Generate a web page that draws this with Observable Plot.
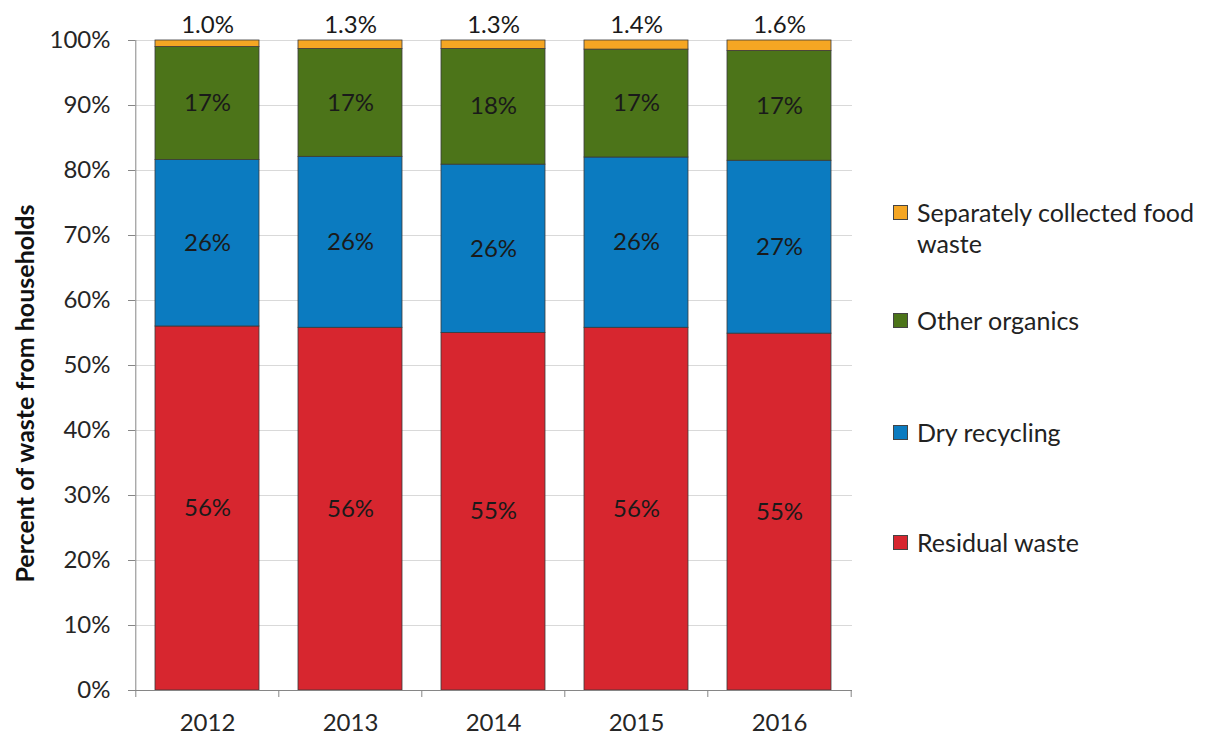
<!DOCTYPE html>
<html><head><meta charset="utf-8">
<script src="https://cdn.jsdelivr.net/npm/d3@7"></script>
<script src="https://cdn.jsdelivr.net/npm/@observablehq/plot@0.6"></script>
<style>
body{margin:0;background:#fff;font-family:Lato,sans-serif}
#wrap{position:relative;width:1213px;height:735px;overflow:hidden}
#legend{position:absolute;left:0;top:0;width:1213px;height:735px;pointer-events:none}
.item{position:absolute;left:893px;display:flex;align-items:flex-start;font-size:25px;line-height:31px;color:#222}
.sw{width:13px;height:13px;border:1px solid #444;margin-top:8px;margin-right:9px;flex:none}
.item:nth-child(1){top:197px;width:320px}
.item:nth-child(2){top:305px}
.item:nth-child(3){top:417px}
.item:nth-child(4){top:527px}
</style></head><body><div id="wrap"><div id="chart"></div><div id="legend"></div></div>
<script>
const years = ["2012","2013","2014","2015","2016"];
const series = ["Residual waste","Dry recycling","Other organics","Separately collected food waste"];
const residual = [56.0,55.8,55.0,55.8,54.9];
const dry = [25.6,26.3,25.9,26.2,26.6];
const organics = [17.4,16.6,17.8,16.6,16.9];
const food = [1.0,1.3,1.3,1.4,1.6];
const colors = ["#D7262F","#0B7BC0","#4C7419","#F5A623"];
const yTicks = [0,10,20,30,40,50,60,70,80,90,100];
const yTitle = "Percent of waste from households";

const valuesBySeries = [residual, dry, organics, food];
const data = [];
years.forEach((yr, i) => series.forEach((s, j) => data.push({year: yr, series: s, value: valuesBySeries[j][i]})));

const W = 1213, H = 735, ml = 135, mr = 361, mt = 40, mb = 45;
const step = (W - ml - mr) / years.length;
const tickDepth = 7 * 100 / (H - mt - mb);

const chart = Plot.plot({
  width: W, height: H,
  marginLeft: ml, marginRight: mr, marginTop: mt, marginBottom: mb,
  style: {fontFamily: "Lato, sans-serif", fontSize: "24px", color: "#262626", background: "#fff"},
  x: {domain: years, paddingInner: 0.27, paddingOuter: 0.135, label: null},
  y: {domain: [0, 100], label: null},
  color: {domain: series, range: colors},
  marks: [
    Plot.gridY(yTicks.slice(1), {stroke: "#d9d9d9", strokeOpacity: 1}),
    Plot.barY(data, Plot.stackY({x: "year", y: "value", fill: "series", z: "series", order: series, stroke: "#3a3a3a", strokeWidth: 0.8})),
    Plot.text(data.filter(d => d.series !== series[3]), Plot.stackY({x: "year", y: "value", z: "series", order: series, text: d => Math.round(d.value) + "%", fill: "#1a1a1a", fontSize: 24})),
    Plot.text(data.filter(d => d.series === series[3]), {x: "year", frameAnchor: "top", lineAnchor: "bottom", dy: -8, text: d => d.value.toFixed(1) + "%", fill: "#1a1a1a", fontSize: 24}),
    Plot.ruleY([0], {stroke: "#868686"}),
    Plot.ruleX(years.slice(0, 1), {x: d => d, dx: -step / 2, y1: -tickDepth, y2: 100, stroke: "#868686"}),
    Plot.ruleX(years.slice(1), {x: d => d, dx: -step / 2, y1: -tickDepth, y2: 0, stroke: "#868686"}),
    Plot.ruleX(years.slice(-1), {x: d => d, dx: step / 2, y1: -tickDepth, y2: 0, stroke: "#868686"}),
    Plot.axisY({ticks: yTicks, tickFormat: d => d + "%", tickSize: 7, tickPadding: 18, stroke: "#868686", fill: "#262626", label: null, fontSize: 24}),
    Plot.axisX({tickSize: 0, tickPadding: 23, fill: "#262626", label: null, fontSize: 24}),
    Plot.text([yTitle], {frameAnchor: "left", textAnchor: "middle", dx: -110, dy: 28, rotate: -90, text: d => d, fontWeight: "bold", fontSize: 25, fill: "#111"})
  ]
});
document.getElementById("chart").appendChild(chart);

const legend = document.getElementById("legend");
[3, 2, 1, 0].forEach(j => {
  const it = document.createElement("div");
  it.className = "item";
  const sw = document.createElement("div");
  sw.className = "sw";
  sw.style.background = colors[j];
  const lab = document.createElement("div");
  lab.textContent = series[j];
  it.appendChild(sw); it.appendChild(lab);
  legend.appendChild(it);
});
</script></body></html>
